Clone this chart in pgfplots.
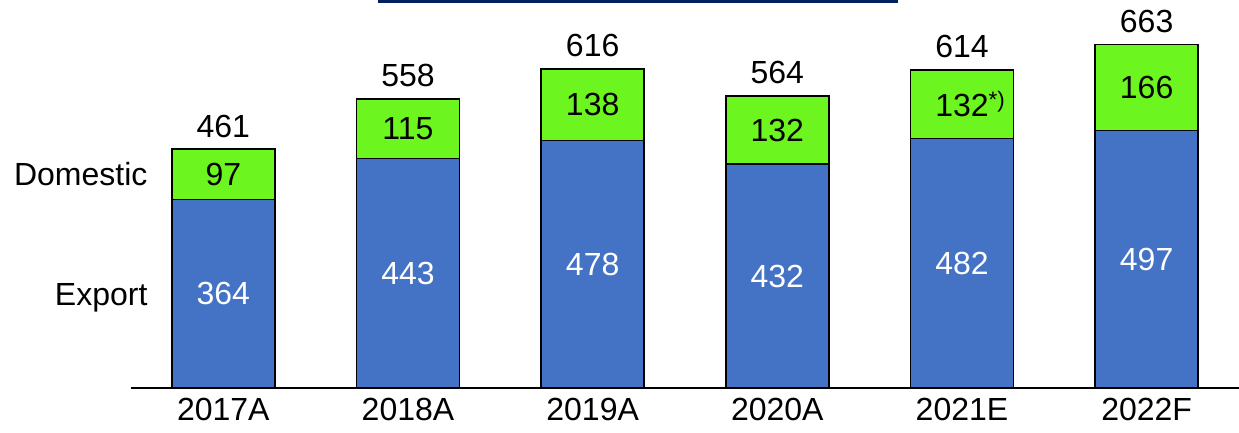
\documentclass[border=0pt]{standalone}
\usepackage{pgfplots}
\pgfplotsset{compat=1.18}
\usepackage{pgfplotstable}
\usepackage{fontspec}
\setmainfont{Liberation Sans}
\definecolor{barblue}{HTML}{4472C4}
\definecolor{bargreen}{RGB}{108,245,30}
\definecolor{navy}{HTML}{002060}
\pgfplotstableread{
x exp dom total domlab
0 364 97 461 97
1 443 115 558 115
2 478 138 616 138
3 432 132 564 132
4 482 132 614 {132\rlap{\textsuperscript{*)}}}
5 497 166 663 166
}\data
\newcommand{\bigf}{\fontsize{32}{38}\selectfont}
\begin{document}
\begin{tikzpicture}[x=1pt,y=1pt]
\path[use as bounding box] (-131,-45) rectangle (1108,388);
\draw[navy, line width=2.5pt] (247,386.5) -- (767,386.5);
\begin{axis}[at={(0,0)}, anchor=south west, scale only axis,
  width=1108pt, height=388pt,
  xmin=-0.5, xmax=5.5, ymin=0, ymax=749,
  clip=false, hide y axis, axis x line*=bottom,
  x axis line style={-, line width=1.3pt},
  xtick={0,...,5}, xticklabels={2017A,2018A,2019A,2020A,2021E,2022F},
  major tick length=0pt,
  xticklabel style={font=\bigf, yshift=-7pt},
  /pgf/number format/assume math mode=true,
]
\addplot[ybar, bar width=103pt, bar shift=0pt, fill=bargreen, draw=black, line width=1.6pt]
  table[x=x, y=total] {\data};
\addplot[ybar, bar width=103pt, bar shift=0pt, fill=barblue, draw=black, line width=1.6pt]
  table[x=x, y=exp] {\data};
% labels
\addplot[draw=none, mark=none, nodes near coords, point meta=explicit symbolic,
  nodes near coords style={anchor=center, font=\bigf, text=white}]
  table[x=x, y expr=\thisrow{exp}/2, meta=exp] {\data};
\addplot[draw=none, mark=none, nodes near coords, point meta=explicit symbolic,
  nodes near coords style={anchor=center, font=\bigf, text=black}]
  table[x=x, y expr=\thisrow{exp}+\thisrow{dom}/2, meta=domlab] {\data};
\addplot[draw=none, mark=none, nodes near coords, point meta=explicit symbolic,
  nodes near coords style={anchor=center, font=\bigf, text=black, yshift=23pt}]
  table[x=x, y=total, meta=total] {\data};
\node[anchor=east, font=\bigf, inner sep=0pt] at (axis cs:-0.41,412.5) {Domestic};
\node[anchor=east, font=\bigf, inner sep=0pt] at (axis cs:-0.41,175) {Export};
\end{axis}
\end{tikzpicture}
\end{document}
